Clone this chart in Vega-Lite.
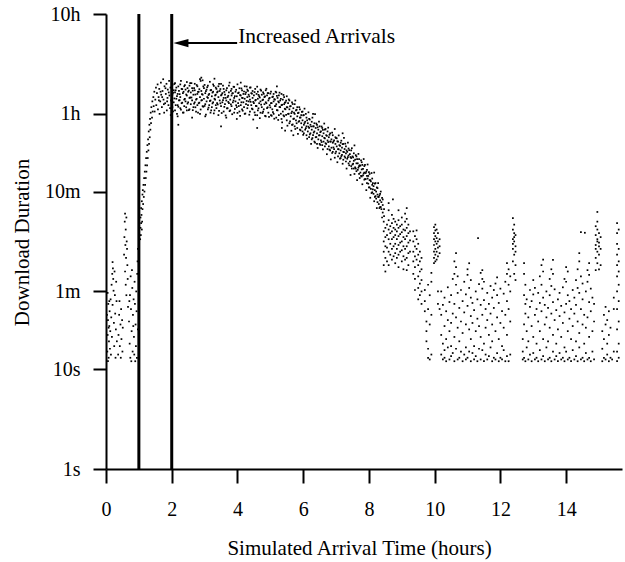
{
"$schema": "https://vega.github.io/schema/vega-lite/v6.json",
"width": 516, "height": 455,
"autosize": {"type": "none"},
"padding": {"left": 106, "top": 14, "right": 3, "bottom": 93},
"background": "white",
"config": {"view": {"stroke": null}, "font": "Times New Roman, Liberation Serif, serif"},
"datasets": {
"pts": [
{"t":0.04,"d":15},{"t":0.05,"d":22},{"t":0.06,"d":31},{"t":0.07,"d":45},{"t":0.05,"d":58},{"t":0.08,"d":13},{"t":0.09,"d":19},{"t":0.1,"d":27},{"t":0.11,"d":38},{"t":0.12,"d":16},{"t":0.13,"d":24},{"t":0.14,"d":50},{"t":0.15,"d":14},{"t":0.16,"d":33},{"t":0.17,"d":70},{"t":0.18,"d":21},{"t":0.19,"d":90},{"t":0.2,"d":118},{"t":0.21,"d":102},{"t":0.22,"d":80},{"t":0.2,"d":44},{"t":0.23,"d":61},{"t":0.24,"d":29},{"t":0.25,"d":17},{"t":0.26,"d":95},{"t":0.27,"d":55},{"t":0.28,"d":36},{"t":0.29,"d":13},{"t":0.3,"d":25},{"t":0.31,"d":75},{"t":0.32,"d":48},{"t":0.33,"d":19},{"t":0.03,"d":35},{"t":0.06,"d":12},{"t":0.1,"d":48},{"t":0.08,"d":26},
{"t":0.37,"d":14},{"t":0.38,"d":22},{"t":0.4,"d":35},{"t":0.41,"d":48},{"t":0.42,"d":17},{"t":0.44,"d":28},{"t":0.45,"d":13},{"t":0.46,"d":40},{"t":0.47,"d":20},{"t":0.49,"d":31},{"t":0.5,"d":15},{"t":0.51,"d":26},
{"t":0.55,"d":140},{"t":0.56,"d":210},{"t":0.57,"d":300},{"t":0.58,"d":360},{"t":0.59,"d":175},{"t":0.6,"d":250},{"t":0.61,"d":130},{"t":0.62,"d":330},{"t":0.63,"d":190},{"t":0.64,"d":160},{"t":0.58,"d":95},{"t":0.6,"d":70},{"t":0.62,"d":55},{"t":0.65,"d":110},{"t":0.66,"d":80},{"t":0.67,"d":42},
{"t":0.7,"d":30},{"t":0.72,"d":18},{"t":0.73,"d":55},{"t":0.74,"d":13},{"t":0.75,"d":85},{"t":0.76,"d":40},{"t":0.78,"d":24},{"t":0.79,"d":98},{"t":0.8,"d":65},{"t":0.81,"d":15},{"t":0.82,"d":35},{"t":0.84,"d":50},{"t":0.85,"d":21},{"t":0.86,"d":14},{"t":0.87,"d":75},{"t":0.88,"d":45},{"t":0.9,"d":28},{"t":0.91,"d":17},{"t":0.92,"d":60},{"t":0.93,"d":38},{"t":0.94,"d":13},{"t":0.95,"d":90},{"t":0.96,"d":120},{"t":0.97,"d":25},{"t":0.97,"d":160},{"t":0.77,"d":12},{"t":0.83,"d":27},{"t":0.89,"d":12},{"t":0.71,"d":48},
{"t":1.04,"d":200},{"t":1.05,"d":260},{"t":1.05,"d":330},{"t":1.06,"d":220},{"t":1.07,"d":290},{"t":1.07,"d":410},{"t":1.08,"d":350},{"t":1.09,"d":250},{"t":1.09,"d":480},{"t":1.1,"d":300},{"t":1.11,"d":560},{"t":1.11,"d":400},{"t":1.12,"d":620},{"t":1.13,"d":450},{"t":1.14,"d":700},{"t":1.15,"d":530},{"t":1.16,"d":820},{"t":1.17,"d":600},{"t":1.18,"d":950},{"t":1.19,"d":700},{"t":1.2,"d":1100},{"t":1.21,"d":820},{"t":1.22,"d":1300},{"t":1.23,"d":950},{"t":1.24,"d":1500},{"t":1.25,"d":1100},{"t":1.26,"d":1750},{"t":1.27,"d":1300},{"t":1.28,"d":2000},{"t":1.29,"d":1550},{"t":1.3,"d":2400},{"t":1.31,"d":1800},{"t":1.32,"d":2800},{"t":1.33,"d":2100},{"t":1.34,"d":3200},{"t":1.35,"d":2500},{"t":1.36,"d":3700},{"t":1.37,"d":2900},{"t":1.38,"d":4200},{"t":1.4,"d":3300},{"t":1.41,"d":4800},{"t":1.42,"d":3800},{"t":1.44,"d":5300},{"t":1.45,"d":4300},{"t":1.47,"d":6000},{"t":1.48,"d":3800},{"t":1.5,"d":5000},{"t":1.52,"d":6600},{"t":1.53,"d":4400},{"t":1.55,"d":5800},{"t":1.57,"d":7100},{"t":1.58,"d":4000},{"t":1.6,"d":5300},{"t":1.62,"d":6400},{"t":1.63,"d":3600},{"t":1.65,"d":4800},{"t":1.67,"d":7400},{"t":1.68,"d":5600},{"t":1.7,"d":4200},{"t":1.72,"d":6100},{"t":1.74,"d":8000},{"t":1.75,"d":5000},{"t":1.77,"d":3700},{"t":1.78,"d":6800},{"t":1.8,"d":4600},{"t":1.82,"d":5700},{"t":1.84,"d":7200},{"t":1.85,"d":3900},{"t":1.87,"d":5200},{"t":1.88,"d":6300},{"t":1.9,"d":4400},{"t":1.92,"d":7700},{"t":1.93,"d":5500},{"t":1.95,"d":4100},{"t":1.96,"d":6600},{"t":1.98,"d":4900},
{"t":1.61,"d":4900},{"t":1.66,"d":6000},{"t":1.71,"d":5300},{"t":1.76,"d":4500},{"t":1.81,"d":6500},{"t":1.86,"d":4800},{"t":1.91,"d":5900},{"t":1.97,"d":3500},
{"t":2.02,"d":5600},{"t":2.02,"d":4200},{"t":2.02,"d":7000},{"t":2.06,"d":4700},{"t":2.06,"d":6200},{"t":2.1,"d":5900},{"t":2.1,"d":3900},{"t":2.1,"d":7300},{"t":2.14,"d":5100},{"t":2.14,"d":6600},{"t":2.18,"d":4400},{"t":2.18,"d":5700},{"t":2.18,"d":3400},{"t":2.22,"d":6100},{"t":2.22,"d":4900},{"t":2.26,"d":5300},{"t":2.26,"d":7100},{"t":2.26,"d":4100},{"t":2.3,"d":4600},{"t":2.3,"d":6400},{"t":2.34,"d":5800},{"t":2.34,"d":3700},{"t":2.38,"d":5000},{"t":2.38,"d":6800},{"t":2.38,"d":4300},{"t":2.42,"d":6300},{"t":2.42,"d":4800},{"t":2.46,"d":5500},{"t":2.46,"d":3900},{"t":2.46,"d":7500},{"t":2.5,"d":4700},{"t":2.5,"d":6000},{"t":2.54,"d":5200},{"t":2.54,"d":4000},{"t":2.54,"d":6900},{"t":2.58,"d":5900},{"t":2.58,"d":4500},{"t":2.62,"d":4900},{"t":2.62,"d":6500},{"t":2.62,"d":3300},{"t":2.66,"d":5600},{"t":2.66,"d":4200},{"t":2.7,"d":6200},{"t":2.7,"d":4700},{"t":2.7,"d":7200},{"t":2.74,"d":5000},{"t":2.74,"d":3800},{"t":2.78,"d":5700},{"t":2.78,"d":6800},{"t":2.78,"d":4400},{"t":2.82,"d":4600},{"t":2.82,"d":6000},{"t":2.86,"d":5300},{"t":2.86,"d":8000},{"t":2.86,"d":3600},{"t":2.9,"d":6100},{"t":2.9,"d":4900},{"t":2.94,"d":4300},{"t":2.94,"d":5600},{"t":2.94,"d":7800},{"t":2.98,"d":5100},{"t":2.98,"d":6500},
{"t":3.02,"d":4500},{"t":3.02,"d":5800},{"t":3.02,"d":3400},{"t":3.06,"d":6300},{"t":3.06,"d":4800},{"t":3.1,"d":5200},{"t":3.1,"d":4000},{"t":3.1,"d":6900},{"t":3.14,"d":5700},{"t":3.14,"d":4400},{"t":3.18,"d":4900},{"t":3.18,"d":6200},{"t":3.18,"d":3700},{"t":3.22,"d":5400},{"t":3.22,"d":4200},{"t":3.26,"d":6000},{"t":3.26,"d":4700},{"t":3.26,"d":7100},{"t":3.3,"d":5100},{"t":3.3,"d":3900},{"t":3.3,"d":8100},{"t":3.34,"d":5600},{"t":3.34,"d":6600},{"t":3.34,"d":4400},{"t":3.38,"d":4600},{"t":3.38,"d":5900},{"t":3.42,"d":5300},{"t":3.42,"d":3500},{"t":3.42,"d":6800},{"t":3.46,"d":4900},{"t":3.46,"d":6100},{"t":3.5,"d":5500},{"t":3.5,"d":4300},{"t":3.5,"d":7200},{"t":3.54,"d":4700},{"t":3.54,"d":5800},{"t":3.58,"d":5200},{"t":3.58,"d":3800},{"t":3.58,"d":6400},{"t":3.62,"d":5600},{"t":3.62,"d":4500},{"t":3.66,"d":4900},{"t":3.66,"d":6200},{"t":3.66,"d":3300},{"t":3.7,"d":5300},{"t":3.7,"d":4100},{"t":3.74,"d":5900},{"t":3.74,"d":4600},{"t":3.74,"d":6900},{"t":3.78,"d":5000},{"t":3.78,"d":3900},{"t":3.82,"d":5500},{"t":3.82,"d":6400},{"t":3.82,"d":4300},{"t":3.86,"d":4700},{"t":3.86,"d":5800},{"t":3.9,"d":5200},{"t":3.9,"d":3700},{"t":3.9,"d":6700},{"t":3.94,"d":4800},{"t":3.94,"d":6000},{"t":3.98,"d":5400},{"t":3.98,"d":4200},{"t":3.98,"d":3200},
{"t":4.02,"d":5800},{"t":4.02,"d":4600},{"t":4.06,"d":5000},{"t":4.06,"d":6500},{"t":4.06,"d":3800},{"t":4.1,"d":4400},{"t":4.1,"d":5500},{"t":4.14,"d":5200},{"t":4.14,"d":6200},{"t":4.14,"d":4000},{"t":4.18,"d":4700},{"t":4.18,"d":5700},{"t":4.22,"d":5100},{"t":4.22,"d":3600},{"t":4.22,"d":6800},{"t":4.26,"d":4500},{"t":4.26,"d":5900},{"t":4.3,"d":5300},{"t":4.3,"d":4100},{"t":4.3,"d":6300},{"t":4.34,"d":4800},{"t":4.34,"d":5600},{"t":4.38,"d":5000},{"t":4.38,"d":3800},{"t":4.38,"d":6600},{"t":4.42,"d":4400},{"t":4.42,"d":5800},{"t":4.46,"d":5200},{"t":4.46,"d":4000},{"t":4.46,"d":6100},{"t":4.5,"d":4600},{"t":4.5,"d":5500},{"t":4.54,"d":4900},{"t":4.54,"d":3500},{"t":4.54,"d":6400},{"t":4.58,"d":4300},{"t":4.58,"d":5700},{"t":4.62,"d":5100},{"t":4.62,"d":3900},{"t":4.62,"d":6000},{"t":4.66,"d":4600},{"t":4.66,"d":5400},{"t":4.7,"d":4800},{"t":4.7,"d":3700},{"t":4.7,"d":6300},{"t":4.74,"d":4200},{"t":4.74,"d":5600},{"t":4.78,"d":5000},{"t":4.78,"d":3800},{"t":4.78,"d":5900},{"t":4.82,"d":4500},{"t":4.82,"d":5300},{"t":4.86,"d":4700},{"t":4.86,"d":3400},{"t":4.86,"d":6200},{"t":4.9,"d":4100},{"t":4.9,"d":5500},{"t":4.94,"d":4900},{"t":4.94,"d":3700},{"t":4.94,"d":5800},{"t":4.98,"d":4400},{"t":4.98,"d":5200},
{"t":5.02,"d":4600},{"t":5.02,"d":3500},{"t":5.02,"d":6000},{"t":5.06,"d":4000},{"t":5.06,"d":5300},{"t":5.1,"d":4800},{"t":5.1,"d":3600},{"t":5.1,"d":5700},{"t":5.14,"d":4300},{"t":5.14,"d":5000},{"t":5.18,"d":4500},{"t":5.18,"d":3300},{"t":5.18,"d":5900},{"t":5.22,"d":3900},{"t":5.22,"d":5200},{"t":5.26,"d":4700},{"t":5.26,"d":3500},{"t":5.26,"d":5500},{"t":5.3,"d":4200},{"t":5.3,"d":4900},{"t":5.34,"d":4400},{"t":5.34,"d":3200},{"t":5.34,"d":5700},{"t":5.38,"d":3800},{"t":5.38,"d":5000},{"t":5.42,"d":4500},{"t":5.42,"d":3400},{"t":5.42,"d":5300},{"t":5.46,"d":4000},{"t":5.46,"d":4700},{"t":5.5,"d":4200},{"t":5.5,"d":3100},{"t":5.5,"d":5400},{"t":5.54,"d":3600},{"t":5.54,"d":4600},{"t":5.58,"d":4000},{"t":5.58,"d":2900},{"t":5.58,"d":4900},{"t":5.62,"d":3400},{"t":5.62,"d":4300},{"t":5.66,"d":3800},{"t":5.66,"d":2800},{"t":5.66,"d":4700},{"t":5.7,"d":3200},{"t":5.7,"d":4100},{"t":5.74,"d":3600},{"t":5.74,"d":2700},{"t":5.74,"d":4500},{"t":5.78,"d":3100},{"t":5.78,"d":3900},{"t":5.82,"d":3400},{"t":5.82,"d":2600},{"t":5.82,"d":4200},{"t":5.86,"d":3000},{"t":5.86,"d":3700},{"t":5.9,"d":3300},{"t":5.9,"d":2500},{"t":5.9,"d":4000},{"t":5.94,"d":2900},{"t":5.94,"d":3500},{"t":5.98,"d":3100},{"t":5.98,"d":2400},{"t":5.98,"d":3800},
{"t":6.02,"d":2800},{"t":6.02,"d":3500},{"t":6.02,"d":2300},{"t":6.06,"d":3000},{"t":6.06,"d":2500},{"t":6.1,"d":2700},{"t":6.1,"d":3300},{"t":6.1,"d":2200},{"t":6.14,"d":2900},{"t":6.14,"d":2400},{"t":6.18,"d":2600},{"t":6.18,"d":3200},{"t":6.18,"d":2100},{"t":6.22,"d":2800},{"t":6.22,"d":2300},{"t":6.26,"d":2500},{"t":6.26,"d":3000},{"t":6.26,"d":2000},{"t":6.3,"d":2700},{"t":6.3,"d":2200},{"t":6.34,"d":2400},{"t":6.34,"d":2900},{"t":6.34,"d":1900},{"t":6.38,"d":2600},{"t":6.38,"d":2100},{"t":6.42,"d":2300},{"t":6.42,"d":2800},{"t":6.42,"d":1800},{"t":6.46,"d":2500},{"t":6.46,"d":2000},{"t":6.5,"d":2200},{"t":6.5,"d":2700},{"t":6.5,"d":1800},{"t":6.54,"d":2400},{"t":6.54,"d":1950},{"t":6.58,"d":2150},{"t":6.58,"d":2600},{"t":6.58,"d":1750},{"t":6.62,"d":2300},{"t":6.62,"d":1900},{"t":6.66,"d":2050},{"t":6.66,"d":2500},{"t":6.66,"d":1700},{"t":6.7,"d":2200},{"t":6.7,"d":1800},{"t":6.74,"d":1950},{"t":6.74,"d":2400},{"t":6.74,"d":1600},{"t":6.78,"d":2100},{"t":6.78,"d":1700},{"t":6.82,"d":1900},{"t":6.82,"d":2300},{"t":6.82,"d":1550},{"t":6.86,"d":2000},{"t":6.86,"d":1650},{"t":6.9,"d":1850},{"t":6.9,"d":2200},{"t":6.9,"d":1500},{"t":6.94,"d":1950},{"t":6.94,"d":1600},{"t":6.98,"d":1800},{"t":6.98,"d":2100},{"t":6.98,"d":1450},
{"t":7.02,"d":1700},{"t":7.02,"d":2050},{"t":7.06,"d":1600},{"t":7.06,"d":1900},{"t":7.06,"d":1350},{"t":7.1,"d":1750},{"t":7.1,"d":1450},{"t":7.14,"d":1550},{"t":7.14,"d":1850},{"t":7.14,"d":1300},{"t":7.18,"d":1650},{"t":7.18,"d":1400},{"t":7.22,"d":1500},{"t":7.22,"d":1800},{"t":7.22,"d":1250},{"t":7.26,"d":1600},{"t":7.26,"d":1350},{"t":7.3,"d":1450},{"t":7.3,"d":1700},{"t":7.3,"d":1200},{"t":7.34,"d":1500},{"t":7.34,"d":1280},{"t":7.38,"d":1380},{"t":7.38,"d":1620},{"t":7.38,"d":1150},{"t":7.42,"d":1420},{"t":7.42,"d":1200},{"t":7.46,"d":1300},{"t":7.46,"d":1550},{"t":7.46,"d":1080},{"t":7.5,"d":1350},{"t":7.5,"d":1120},{"t":7.54,"d":1220},{"t":7.54,"d":1450},{"t":7.54,"d":1020},{"t":7.58,"d":1250},{"t":7.58,"d":1050},{"t":7.62,"d":1150},{"t":7.62,"d":1350},{"t":7.62,"d":960},{"t":7.66,"d":1150},{"t":7.66,"d":990},{"t":7.7,"d":1080},{"t":7.7,"d":1270},{"t":7.7,"d":900},{"t":7.74,"d":1090},{"t":7.74,"d":930},{"t":7.78,"d":1000},{"t":7.78,"d":1180},{"t":7.78,"d":850},{"t":7.82,"d":1010},{"t":7.82,"d":870},{"t":7.86,"d":930},{"t":7.86,"d":1080},{"t":7.86,"d":790},{"t":7.9,"d":920},{"t":7.9,"d":800},{"t":7.94,"d":860},{"t":7.94,"d":990},{"t":7.94,"d":730},{"t":7.98,"d":860},{"t":7.98,"d":720},
{"t":8.02,"d":780},{"t":8.02,"d":900},{"t":8.02,"d":660},{"t":8.06,"d":760},{"t":8.06,"d":640},{"t":8.1,"d":700},{"t":8.1,"d":810},{"t":8.1,"d":590},{"t":8.14,"d":680},{"t":8.14,"d":570},{"t":8.18,"d":620},{"t":8.18,"d":720},{"t":8.18,"d":530},{"t":8.22,"d":600},{"t":8.22,"d":510},{"t":8.26,"d":560},{"t":8.26,"d":650},{"t":8.26,"d":470},{"t":8.3,"d":530},{"t":8.3,"d":450},{"t":8.34,"d":490},{"t":8.34,"d":570},{"t":8.34,"d":420},{"t":8.38,"d":470},{"t":8.38,"d":400},{"t":8.42,"d":440},{"t":8.42,"d":370},{"t":8.42,"d":500},{"t":8.46,"d":400},{"t":8.46,"d":340},
{"t":2.0,"d":4770},{"t":2.0,"d":6630},{"t":2.04,"d":3820},{"t":2.04,"d":5830},{"t":2.08,"d":5140},{"t":2.08,"d":7160},{"t":2.12,"d":4400},{"t":2.12,"d":6200},{"t":2.16,"d":3600},{"t":2.16,"d":5410},{"t":2.2,"d":6780},{"t":2.2,"d":4240},{"t":2.24,"d":5670},{"t":2.24,"d":4930},{"t":2.28,"d":7690},{"t":2.28,"d":3980},{"t":2.32,"d":6360},{"t":2.32,"d":4660},{"t":2.36,"d":5990},{"t":2.36,"d":3710},{"t":2.4,"d":7000},{"t":2.4,"d":5090},{"t":2.44,"d":5620},{"t":2.44,"d":4190},{"t":2.48,"d":6520},{"t":2.48,"d":4560},{"t":2.52,"d":6150},{"t":2.52,"d":3920},{"t":2.56,"d":7310},{"t":2.56,"d":5250},
{"t":2.6,"d":5250},{"t":2.6,"d":7310},{"t":2.64,"d":3920},{"t":2.64,"d":6150},{"t":2.68,"d":4560},{"t":2.68,"d":6520},{"t":2.72,"d":4190},{"t":2.72,"d":5620},{"t":2.76,"d":5090},{"t":2.76,"d":7000},{"t":2.8,"d":3710},{"t":2.8,"d":5990},{"t":2.84,"d":4660},{"t":2.84,"d":6360},{"t":2.88,"d":3980},{"t":2.88,"d":7690},{"t":2.92,"d":4930},{"t":2.92,"d":5670},{"t":2.96,"d":4240},{"t":2.96,"d":6780},
{"t":3.0,"d":7020},{"t":3.0,"d":4320},{"t":3.04,"d":6080},{"t":3.04,"d":3540},{"t":3.08,"d":5300},{"t":3.08,"d":6660},{"t":3.12,"d":4160},{"t":3.12,"d":5560},{"t":3.16,"d":4840},{"t":3.16,"d":7540},{"t":3.2,"d":3900},{"t":3.2,"d":6240},{"t":3.24,"d":4580},{"t":3.24,"d":5880},{"t":3.28,"d":3640},{"t":3.28,"d":6860},{"t":3.32,"d":4990},{"t":3.32,"d":5510},{"t":3.36,"d":4110},{"t":3.36,"d":6400},{"t":3.4,"d":4470},{"t":3.4,"d":6030},{"t":3.44,"d":3850},{"t":3.44,"d":7180},
{"t":3.48,"d":6380},{"t":3.48,"d":4590},{"t":3.52,"d":5610},{"t":3.52,"d":3670},{"t":3.56,"d":6890},{"t":3.56,"d":4950},{"t":3.6,"d":5970},{"t":3.6,"d":4230},{"t":3.64,"d":5200},{"t":3.64,"d":3470},{"t":3.68,"d":4080},{"t":3.68,"d":6530},{"t":3.72,"d":4740},{"t":3.72,"d":5460},{"t":3.76,"d":3830},{"t":3.76,"d":7400},{"t":3.8,"d":4490},{"t":3.8,"d":6120},{"t":3.84,"d":3570},{"t":3.84,"d":5760},{"t":3.88,"d":4900},{"t":3.88,"d":6730},{"t":3.92,"d":4030},{"t":3.92,"d":5410},{"t":3.96,"d":4390},{"t":3.96,"d":6270},
{"t":4.0,"d":7110},{"t":4.0,"d":3680},{"t":4.04,"d":5880},{"t":4.04,"d":4310},{"t":4.08,"d":5540},{"t":4.08,"d":3430},{"t":4.12,"d":6470},{"t":4.12,"d":4700},{"t":4.16,"d":5190},{"t":4.16,"d":3870},{"t":4.2,"d":6030},{"t":4.2,"d":4210},{"t":4.24,"d":5680},{"t":4.24,"d":3630},{"t":4.28,"d":6760},{"t":4.28,"d":4850},{"t":4.32,"d":4410},{"t":4.32,"d":6130},{"t":4.36,"d":3530},{"t":4.36,"d":5390},{"t":4.4,"d":4750},{"t":4.4,"d":6620},{"t":4.44,"d":4070},{"t":4.44,"d":5730},
{"t":4.48,"d":3160},{"t":4.48,"d":4740},{"t":4.52,"d":5950},{"t":4.52,"d":3720},{"t":4.56,"d":4980},{"t":4.56,"d":4320},{"t":4.6,"d":6740},{"t":4.6,"d":3490},{"t":4.64,"d":5580},{"t":4.64,"d":4090},{"t":4.68,"d":5250},{"t":4.68,"d":3260},{"t":4.72,"d":6140},{"t":4.72,"d":4460},{"t":4.76,"d":4930},{"t":4.76,"d":3670},{"t":4.8,"d":5720},{"t":4.8,"d":4000},{"t":4.84,"d":5390},{"t":4.84,"d":3440},{"t":4.88,"d":6420},{"t":4.88,"d":4600},{"t":4.92,"d":4190},{"t":4.92,"d":5810},{"t":4.96,"d":3350},{"t":4.96,"d":5120},
{"t":5.0,"d":5740},{"t":5.0,"d":4180},{"t":5.04,"d":4610},{"t":5.04,"d":3440},{"t":5.08,"d":5350},{"t":5.08,"d":3740},{"t":5.12,"d":5050},{"t":5.12,"d":3220},{"t":5.16,"d":6000},{"t":5.16,"d":4310},{"t":5.2,"d":3920},{"t":5.2,"d":5440},{"t":5.24,"d":3130},{"t":5.24,"d":4790},{"t":5.28,"d":4220},{"t":5.28,"d":5870},{"t":5.32,"d":3610},{"t":5.32,"d":5090},{"t":5.36,"d":2960},{"t":5.36,"d":4440},{"t":5.4,"d":5570},{"t":5.4,"d":3480},{"t":5.44,"d":4650},{"t":5.44,"d":4050},
{"t":5.48,"d":3510},{"t":5.48,"d":4880},{"t":5.52,"d":2740},{"t":5.52,"d":4180},{"t":5.56,"d":3610},{"t":5.56,"d":5020},{"t":5.6,"d":3030},{"t":5.6,"d":4270},{"t":5.64,"d":2440},{"t":5.64,"d":3660},{"t":5.68,"d":4520},{"t":5.68,"d":2820},{"t":5.72,"d":3700},{"t":5.72,"d":3220},{"t":5.76,"d":4900},{"t":5.76,"d":2540},{"t":5.8,"d":3960},{"t":5.8,"d":2900},{"t":5.84,"d":3660},{"t":5.84,"d":2270},{"t":5.88,"d":4200},{"t":5.88,"d":3050},{"t":5.92,"d":3310},{"t":5.92,"d":2460},{"t":5.96,"d":3760},{"t":5.96,"d":2630},
{"t":6.0,"d":3480},{"t":6.0,"d":2220},{"t":6.04,"d":4060},{"t":6.04,"d":2910},{"t":6.08,"d":2590},{"t":6.08,"d":3600},{"t":6.12,"d":2030},{"t":6.12,"d":3100},{"t":6.16,"d":2680},{"t":6.16,"d":3730},{"t":6.2,"d":2240},{"t":6.2,"d":3160},{"t":6.24,"d":1800},{"t":6.24,"d":2690},{"t":6.28,"d":3300},{"t":6.28,"d":2060},{"t":6.32,"d":2700},{"t":6.32,"d":2340},{"t":6.36,"d":3570},{"t":6.36,"d":1850},{"t":6.4,"d":2880},{"t":6.4,"d":2110},{"t":6.44,"d":2640},{"t":6.44,"d":1640},{"t":6.48,"d":3010},{"t":6.48,"d":2190},{"t":6.52,"d":2360},{"t":6.52,"d":1760},{"t":6.56,"d":2690},{"t":6.56,"d":1880},{"t":6.6,"d":2490},{"t":6.6,"d":1590},{"t":6.64,"d":2880},{"t":6.64,"d":2070},{"t":6.68,"d":1830},{"t":6.68,"d":2540},{"t":6.72,"d":1420},{"t":6.72,"d":2170},{"t":6.76,"d":1880},{"t":6.76,"d":2620},{"t":6.8,"d":1580},{"t":6.8,"d":2220},{"t":6.84,"d":1260},{"t":6.84,"d":1900},{"t":6.88,"d":2330},{"t":6.88,"d":1460},{"t":6.92,"d":1900},{"t":6.92,"d":1660},{"t":6.96,"d":2540},{"t":6.96,"d":1310},
{"t":7.0,"d":2060},{"t":7.0,"d":1510},{"t":7.04,"d":1910},{"t":7.04,"d":1180},{"t":7.08,"d":2190},{"t":7.08,"d":1590},{"t":7.12,"d":1720},{"t":7.12,"d":1280},{"t":7.16,"d":1940},{"t":7.16,"d":1360},{"t":7.2,"d":1790},{"t":7.2,"d":1140},{"t":7.24,"d":2070},{"t":7.24,"d":1490},{"t":7.28,"d":1310},{"t":7.28,"d":1810},{"t":7.32,"d":1020},{"t":7.32,"d":1550},{"t":7.36,"d":1330},{"t":7.36,"d":1850},{"t":7.4,"d":1100},{"t":7.4,"d":1560},{"t":7.44,"d":880},{"t":7.44,"d":1330},{"t":7.48,"d":1630},{"t":7.48,"d":1020},{"t":7.52,"d":1320},{"t":7.52,"d":1140},{"t":7.56,"d":1740},{"t":7.56,"d":900},{"t":7.6,"d":1390},{"t":7.6,"d":1020},{"t":7.64,"d":1270},{"t":7.64,"d":780},{"t":7.68,"d":1430},{"t":7.68,"d":1040},{"t":7.72,"d":1100},{"t":7.72,"d":820},{"t":7.76,"d":1230},{"t":7.76,"d":860},{"t":7.8,"d":1110},{"t":7.8,"d":710},{"t":7.84,"d":1270},{"t":7.84,"d":910},{"t":7.88,"d":800},{"t":7.88,"d":1110},{"t":7.92,"d":620},{"t":7.92,"d":950},{"t":7.96,"d":810},{"t":7.96,"d":1120},
{"t":8.0,"d":660},{"t":8.0,"d":940},{"t":8.04,"d":520},{"t":8.04,"d":780},{"t":8.08,"d":920},{"t":8.08,"d":580},{"t":8.12,"d":730},{"t":8.12,"d":630},{"t":8.16,"d":930},{"t":8.16,"d":480},{"t":8.2,"d":730},{"t":8.2,"d":540},{"t":8.24,"d":660},{"t":8.24,"d":410},{"t":8.28,"d":730},{"t":8.28,"d":530},{"t":8.32,"d":550},{"t":8.32,"d":410},{"t":8.36,"d":600},{"t":8.36,"d":420},{"t":8.4,"d":520},{"t":8.4,"d":330},
{"t":2.2,"d":2800},{"t":3.5,"d":2700},{"t":4.6,"d":2600},{"t":5.7,"d":2200},{"t":5.35,"d":2600},{"t":5.45,"d":2450},{"t":2.9,"d":8300},{"t":4.1,"d":7400},{"t":5.2,"d":6800},{"t":6.3,"d":3600},{"t":7.2,"d":2300},{"t":8.6,"d":460},{"t":8.73,"d":500},
{"t":8.45,"d":300},{"t":8.45,"d":240},{"t":8.45,"d":190},{"t":8.45,"d":150},{"t":8.45,"d":110},{"t":8.5,"d":260},{"t":8.5,"d":210},{"t":8.5,"d":170},{"t":8.5,"d":130},{"t":8.5,"d":95},{"t":8.55,"d":280},{"t":8.55,"d":220},{"t":8.55,"d":165},{"t":8.55,"d":120},{"t":8.6,"d":390},{"t":8.6,"d":310},{"t":8.6,"d":250},{"t":8.6,"d":200},{"t":8.6,"d":150},{"t":8.6,"d":110},{"t":8.65,"d":270},{"t":8.65,"d":230},{"t":8.65,"d":180},{"t":8.65,"d":140},{"t":8.7,"d":350},{"t":8.7,"d":290},{"t":8.7,"d":240},{"t":8.7,"d":200},{"t":8.7,"d":160},{"t":8.7,"d":125},{"t":8.75,"d":320},{"t":8.75,"d":260},{"t":8.75,"d":210},{"t":8.75,"d":170},{"t":8.75,"d":135},{"t":8.8,"d":300},{"t":8.8,"d":250},{"t":8.8,"d":220},{"t":8.8,"d":180},{"t":8.8,"d":145},{"t":8.8,"d":115},{"t":8.85,"d":280},{"t":8.85,"d":240},{"t":8.85,"d":200},{"t":8.85,"d":160},{"t":8.85,"d":130},{"t":8.9,"d":390},{"t":8.9,"d":310},{"t":8.9,"d":260},{"t":8.9,"d":215},{"t":8.9,"d":175},{"t":8.9,"d":140},{"t":8.9,"d":105},{"t":8.95,"d":270},{"t":8.95,"d":225},{"t":8.95,"d":185},{"t":8.95,"d":150},{"t":9.0,"d":330},{"t":9.0,"d":280},{"t":9.0,"d":235},{"t":9.0,"d":190},{"t":9.0,"d":155},{"t":9.0,"d":120},{"t":9.05,"d":250},{"t":9.05,"d":210},{"t":9.05,"d":170},{"t":9.05,"d":135},{"t":9.05,"d":100},{"t":9.1,"d":360},{"t":9.1,"d":300},{"t":9.1,"d":245},{"t":9.1,"d":200},{"t":9.1,"d":160},{"t":9.1,"d":125},{"t":9.15,"d":410},{"t":9.15,"d":320},{"t":9.15,"d":260},{"t":9.15,"d":215},{"t":9.15,"d":170},{"t":9.15,"d":130},{"t":9.15,"d":98},{"t":9.2,"d":280},{"t":9.2,"d":230},{"t":9.2,"d":185},{"t":9.2,"d":145},{"t":9.2,"d":110},{"t":9.25,"d":240},{"t":9.25,"d":195},{"t":9.25,"d":150},
{"t":9.35,"d":240},{"t":9.35,"d":190},{"t":9.35,"d":150},{"t":9.35,"d":120},{"t":9.35,"d":90},{"t":9.4,"d":215},{"t":9.4,"d":170},{"t":9.4,"d":135},{"t":9.4,"d":105},{"t":9.4,"d":80},{"t":9.4,"d":62},{"t":9.45,"d":245},{"t":9.45,"d":200},{"t":9.45,"d":160},{"t":9.45,"d":125},{"t":9.5,"d":180},{"t":9.5,"d":140},{"t":9.5,"d":110},{"t":9.5,"d":85},{"t":9.5,"d":65},{"t":9.5,"d":50},{"t":9.55,"d":150},{"t":9.55,"d":120},{"t":9.55,"d":95},{"t":9.55,"d":72},{"t":9.55,"d":55},{"t":9.6,"d":130},{"t":9.6,"d":100},{"t":9.6,"d":78},{"t":9.6,"d":60},{"t":9.6,"d":45},
{"t":9.7,"d":62},{"t":9.7,"d":48},{"t":9.7,"d":38},{"t":9.75,"d":30},{"t":9.75,"d":24},{"t":9.75,"d":19},{"t":9.8,"d":70},{"t":9.8,"d":40},{"t":9.8,"d":16},{"t":9.8,"d":13},{"t":9.85,"d":55},{"t":9.85,"d":28},{"t":9.85,"d":12.5},{"t":9.9,"d":92},{"t":9.9,"d":75},{"t":9.9,"d":35},{"t":9.9,"d":14},
{"t":9.98,"d":265},{"t":9.98,"d":230},{"t":9.98,"d":200},{"t":9.98,"d":175},{"t":9.98,"d":150},{"t":9.98,"d":130},{"t":9.98,"d":115},{"t":10.02,"d":280},{"t":10.02,"d":245},{"t":10.02,"d":215},{"t":10.02,"d":190},{"t":10.02,"d":160},{"t":10.02,"d":140},{"t":10.02,"d":120},{"t":10.06,"d":250},{"t":10.06,"d":205},{"t":10.06,"d":180},{"t":10.06,"d":150},{"t":10.06,"d":125},{"t":10.1,"d":230},{"t":10.1,"d":190},{"t":10.1,"d":165},{"t":10.1,"d":135},{"t":10.1,"d":60},{"t":10.1,"d":45},{"t":10.15,"d":200},{"t":10.15,"d":170},{"t":10.15,"d":145},{"t":10.15,"d":40},
{"t":10.2,"d":14},{"t":10.2,"d":22},{"t":10.2,"d":35},{"t":10.2,"d":60},{"t":10.25,"d":12.5},{"t":10.25,"d":18},{"t":10.25,"d":44},{"t":10.3,"d":15.5},{"t":10.3,"d":27},{"t":10.3,"d":52},{"t":10.3,"d":13},{"t":10.35,"d":12},{"t":10.35,"d":20},{"t":10.35,"d":38},{"t":10.4,"d":16.5},{"t":10.4,"d":31},{"t":10.4,"d":66},{"t":10.45,"d":12.5},{"t":10.45,"d":24},{"t":10.45,"d":47},{"t":10.5,"d":13.5},{"t":10.5,"d":17},{"t":10.5,"d":29},{"t":10.5,"d":55},{"t":10.55,"d":14.5},{"t":10.55,"d":36},{"t":10.55,"d":80},{"t":10.6,"d":12},{"t":10.6,"d":21},{"t":10.6,"d":45},{"t":10.6,"d":90},{"t":10.6,"d":120},{"t":10.65,"d":16},{"t":10.65,"d":33},{"t":10.65,"d":70},{"t":10.65,"d":145},{"t":10.65,"d":105},{"t":10.7,"d":12.5},{"t":10.7,"d":26},{"t":10.7,"d":58},{"t":10.7,"d":85},{"t":10.75,"d":13},{"t":10.75,"d":19},{"t":10.75,"d":41},{"t":10.8,"d":15},{"t":10.8,"d":30},{"t":10.8,"d":62},{"t":10.85,"d":12},{"t":10.85,"d":23},{"t":10.85,"d":48},{"t":10.9,"d":14},{"t":10.9,"d":37},{"t":10.9,"d":75},{"t":10.95,"d":12.5},{"t":10.95,"d":16.5},{"t":10.95,"d":28},{"t":10.95,"d":56},
{"t":11.0,"d":13},{"t":11.0,"d":43},{"t":11.0,"d":88},{"t":11.0,"d":100},{"t":11.05,"d":15},{"t":11.05,"d":25},{"t":11.05,"d":65},{"t":11.05,"d":115},{"t":11.1,"d":12},{"t":11.1,"d":20},{"t":11.1,"d":34},{"t":11.1,"d":52},{"t":11.1,"d":78},{"t":11.15,"d":14.5},{"t":11.15,"d":29},{"t":11.15,"d":46},{"t":11.2,"d":12.5},{"t":11.2,"d":17},{"t":11.2,"d":39},{"t":11.25,"d":13.5},{"t":11.25,"d":24},{"t":11.25,"d":60},{"t":11.3,"d":12},{"t":11.3,"d":32},{"t":11.3,"d":50},{"t":11.32,"d":205},{"t":11.35,"d":16},{"t":11.35,"d":27},{"t":11.35,"d":71},{"t":11.4,"d":12.5},{"t":11.4,"d":21},{"t":11.4,"d":44},{"t":11.4,"d":92},{"t":11.45,"d":15.5},{"t":11.45,"d":35},{"t":11.45,"d":64},{"t":11.45,"d":98},{"t":11.45,"d":80},{"t":11.5,"d":12},{"t":11.5,"d":18},{"t":11.5,"d":49},{"t":11.5,"d":75},{"t":11.55,"d":14},{"t":11.55,"d":26},{"t":11.55,"d":40},{"t":11.6,"d":12.5},{"t":11.6,"d":31},{"t":11.6,"d":58},{"t":11.65,"d":13.5},{"t":11.65,"d":22},{"t":11.65,"d":45},{"t":11.7,"d":16.5},{"t":11.7,"d":36},{"t":11.7,"d":68},{"t":11.75,"d":12},{"t":11.75,"d":19},{"t":11.75,"d":28},{"t":11.75,"d":52},{"t":11.8,"d":13},{"t":11.8,"d":41},{"t":11.8,"d":62},{"t":11.85,"d":12.5},{"t":11.85,"d":24},{"t":11.85,"d":72},{"t":11.9,"d":14.5},{"t":11.9,"d":33},{"t":11.9,"d":55},{"t":11.9,"d":83},{"t":11.95,"d":12},{"t":11.95,"d":20},{"t":11.95,"d":46},
{"t":12.0,"d":13},{"t":12.0,"d":29},{"t":12.0,"d":64},{"t":12.05,"d":12.5},{"t":12.05,"d":17},{"t":12.05,"d":38},{"t":12.1,"d":15.5},{"t":12.1,"d":26},{"t":12.1,"d":57},{"t":12.15,"d":12},{"t":12.15,"d":35},{"t":12.15,"d":75},{"t":12.2,"d":13.5},{"t":12.2,"d":22},{"t":12.2,"d":48},{"t":12.2,"d":90},{"t":12.2,"d":115},{"t":12.25,"d":12},{"t":12.25,"d":40},{"t":12.25,"d":70},{"t":12.25,"d":100},{"t":12.3,"d":14},{"t":12.3,"d":30},{"t":12.3,"d":60},{"t":12.3,"d":85},{"t":12.38,"d":120},{"t":12.38,"d":160},{"t":12.38,"d":200},{"t":12.38,"d":250},{"t":12.38,"d":325},{"t":12.38,"d":180},{"t":12.42,"d":90},{"t":12.42,"d":140},{"t":12.42,"d":190},{"t":12.42,"d":230},{"t":12.42,"d":280},{"t":12.42,"d":210},{"t":12.46,"d":78},{"t":12.46,"d":110},{"t":12.46,"d":170},{"t":12.46,"d":220},{"t":12.46,"d":150},
{"t":12.68,"d":12.5},{"t":12.68,"d":15},{"t":12.68,"d":20},{"t":12.72,"d":13},{"t":12.72,"d":28},{"t":12.72,"d":55},{"t":12.72,"d":90},{"t":12.72,"d":115},{"t":12.76,"d":12},{"t":12.76,"d":36},{"t":12.76,"d":70},{"t":12.76,"d":45},{"t":12.8,"d":16.5},{"t":12.8,"d":24},{"t":12.8,"d":50},{"t":12.85,"d":12.5},{"t":12.85,"d":19},{"t":12.85,"d":33},{"t":12.9,"d":14},{"t":12.9,"d":42},{"t":12.9,"d":62},{"t":12.95,"d":12},{"t":12.95,"d":27},{"t":12.95,"d":48},
{"t":13.0,"d":14.5},{"t":13.0,"d":21},{"t":13.0,"d":56},{"t":13.0,"d":78},{"t":13.05,"d":12.5},{"t":13.05,"d":35},{"t":13.05,"d":65},{"t":13.1,"d":13},{"t":13.1,"d":18},{"t":13.1,"d":40},{"t":13.15,"d":12},{"t":13.15,"d":30},{"t":13.15,"d":58},{"t":13.2,"d":15.5},{"t":13.2,"d":24},{"t":13.2,"d":46},{"t":13.2,"d":85},{"t":13.25,"d":12.5},{"t":13.25,"d":38},{"t":13.25,"d":70},{"t":13.25,"d":110},{"t":13.3,"d":13.5},{"t":13.3,"d":20},{"t":13.3,"d":52},{"t":13.3,"d":125},{"t":13.3,"d":95},{"t":13.35,"d":12},{"t":13.35,"d":28},{"t":13.35,"d":44},{"t":13.4,"d":16.5},{"t":13.4,"d":33},{"t":13.4,"d":60},{"t":13.45,"d":12.5},{"t":13.45,"d":19},{"t":13.45,"d":41},{"t":13.5,"d":13},{"t":13.5,"d":26},{"t":13.5,"d":55},{"t":13.5,"d":80},{"t":13.55,"d":12},{"t":13.55,"d":36},{"t":13.55,"d":68},{"t":13.55,"d":100},{"t":13.6,"d":15},{"t":13.6,"d":22},{"t":13.6,"d":47},{"t":13.6,"d":124},{"t":13.6,"d":90},{"t":13.65,"d":12.5},{"t":13.65,"d":31},{"t":13.65,"d":63},{"t":13.7,"d":13.5},{"t":13.7,"d":18},{"t":13.7,"d":39},{"t":13.75,"d":12},{"t":13.75,"d":25},{"t":13.75,"d":50},{"t":13.8,"d":14.5},{"t":13.8,"d":34},{"t":13.8,"d":58},{"t":13.85,"d":12.5},{"t":13.85,"d":21},{"t":13.85,"d":43},{"t":13.9,"d":13},{"t":13.9,"d":29},{"t":13.9,"d":66},{"t":13.95,"d":12},{"t":13.95,"d":16.5},{"t":13.95,"d":37},{"t":13.95,"d":80},
{"t":14.0,"d":15},{"t":14.0,"d":45},{"t":14.0,"d":75},{"t":14.0,"d":105},{"t":14.05,"d":12.5},{"t":14.05,"d":24},{"t":14.05,"d":55},{"t":14.05,"d":95},{"t":14.1,"d":13},{"t":14.1,"d":32},{"t":14.1,"d":48},{"t":14.15,"d":12},{"t":14.15,"d":20},{"t":14.15,"d":40},{"t":14.2,"d":15.5},{"t":14.2,"d":27},{"t":14.2,"d":62},{"t":14.25,"d":12.5},{"t":14.25,"d":36},{"t":14.25,"d":52},{"t":14.3,"d":13.5},{"t":14.3,"d":19},{"t":14.3,"d":44},{"t":14.3,"d":78},{"t":14.35,"d":12},{"t":14.35,"d":30},{"t":14.35,"d":65},{"t":14.35,"d":100},{"t":14.4,"d":16.5},{"t":14.4,"d":23},{"t":14.4,"d":58},{"t":14.4,"d":120},{"t":14.4,"d":145},{"t":14.45,"d":12.5},{"t":14.45,"d":40},{"t":14.45,"d":85},{"t":14.45,"d":235},{"t":14.5,"d":13},{"t":14.5,"d":28},{"t":14.5,"d":50},{"t":14.5,"d":72},{"t":14.55,"d":12},{"t":14.55,"d":18},{"t":14.55,"d":35},{"t":14.57,"d":232},{"t":14.6,"d":14.5},{"t":14.6,"d":26},{"t":14.6,"d":60},{"t":14.65,"d":12.5},{"t":14.65,"d":33},{"t":14.65,"d":75},{"t":14.65,"d":98},{"t":14.7,"d":13},{"t":14.7,"d":21},{"t":14.7,"d":47},{"t":14.7,"d":88},{"t":14.7,"d":115},{"t":14.75,"d":12},{"t":14.75,"d":38},{"t":14.75,"d":64},{"t":14.8,"d":15},{"t":14.8,"d":24},{"t":14.8,"d":52},{"t":14.85,"d":12.5},{"t":14.85,"d":30},{"t":14.85,"d":45},
{"t":14.9,"d":98},{"t":14.9,"d":130},{"t":14.9,"d":175},{"t":14.9,"d":220},{"t":14.9,"d":270},{"t":14.9,"d":160},{"t":14.95,"d":115},{"t":14.95,"d":150},{"t":14.95,"d":200},{"t":14.95,"d":250},{"t":14.95,"d":300},{"t":14.95,"d":375},{"t":14.95,"d":190},{"t":15.0,"d":100},{"t":15.0,"d":140},{"t":15.0,"d":185},{"t":15.0,"d":230},{"t":15.0,"d":170},{"t":15.05,"d":110},{"t":15.05,"d":160},{"t":15.05,"d":210},
{"t":15.1,"d":12},{"t":15.1,"d":16},{"t":15.1,"d":24},{"t":15.15,"d":13},{"t":15.15,"d":20},{"t":15.15,"d":35},{"t":15.2,"d":12.5},{"t":15.2,"d":28},{"t":15.2,"d":42},{"t":15.25,"d":14},{"t":15.25,"d":18},{"t":15.25,"d":31},{"t":15.3,"d":12},{"t":15.3,"d":22},{"t":15.3,"d":38},{"t":15.35,"d":13},{"t":15.35,"d":26},{"t":15.4,"d":12.5},{"t":15.45,"d":15},{"t":15.45,"d":40},{"t":15.45,"d":52},
{"t":15.55,"d":290},{"t":15.55,"d":230},{"t":15.55,"d":180},{"t":15.55,"d":140},{"t":15.55,"d":110},{"t":15.55,"d":85},{"t":15.55,"d":60},{"t":15.55,"d":40},{"t":15.55,"d":25},{"t":15.55,"d":15},{"t":15.55,"d":12},{"t":15.6,"d":250},{"t":15.6,"d":160},{"t":15.6,"d":120},{"t":15.6,"d":95},{"t":15.6,"d":70},{"t":15.6,"d":48},{"t":15.6,"d":30},{"t":15.6,"d":18},{"t":15.6,"d":13}
],
"vlines": [{"t": 1}, {"t": 2}],
"note": [{"t0": 2.28, "t": 3.99, "d": 18400, "label": "Increased Arrivals"}]
},
"layer": [
{
"data": {"name": "pts"},
"mark": {"type": "square", "size": 3, "color": "black", "opacity": 1},
"encoding": {
"x": {"field": "t", "type": "quantitative", "title": "Simulated Arrival Time (hours)", "scale": {"domain": [0, 15.7], "nice": false, "zero": false},
"axis": {"values": [0, 2, 4, 6, 8, 10, 12, 14], "grid": false, "labelFlush": false,
"tickSize": 14, "tickWidth": 2, "tickColor": "black", "domainWidth": 2, "domainColor": "black",
"labelFont": "Times New Roman, Liberation Serif, serif", "labelFontSize": 20, "labelColor": "black", "labelPadding": 16,
"titleFont": "Times New Roman, Liberation Serif, serif", "titleFontSize": 21, "titleFontWeight": "normal", "titleColor": "black",
"titleX": 253, "titleY": 79, "titleBaseline": "middle"}},
"y": {"field": "d", "type": "quantitative", "title": "Download Duration", "scale": {"type": "log", "domain": [1, 36000], "nice": false},
"axis": {"values": [1, 10, 60, 600, 3600, 36000], "grid": false,
"labelExpr": "datum.value == 1 ? '1s' : datum.value == 10 ? '10s' : datum.value == 60 ? '1m' : datum.value == 600 ? '10m' : datum.value == 3600 ? '1h' : '10h'",
"tickSize": 13, "tickWidth": 2, "tickColor": "black", "domainWidth": 2, "domainColor": "black",
"labelFont": "Times New Roman, Liberation Serif, serif", "labelFontSize": 20, "labelColor": "black", "labelPadding": 13,
"titleFont": "Times New Roman, Liberation Serif, serif", "titleFontSize": 21, "titleFontWeight": "normal", "titleColor": "black",
"titleX": -84, "titleY": 228, "titleBaseline": "middle"}}
}
},
{
"data": {"name": "vlines"},
"mark": {"type": "rule", "strokeWidth": 3, "color": "black"},
"encoding": {"x": {"field": "t", "type": "quantitative", "title": "Simulated Arrival Time (hours)"}}
},
{
"data": {"name": "note"},
"mark": {"type": "rule", "strokeWidth": 2, "color": "black"},
"encoding": {
"x": {"field": "t0", "type": "quantitative", "title": "Simulated Arrival Time (hours)"},
"x2": {"field": "t"},
"y": {"field": "d", "type": "quantitative", "title": "Download Duration"}
}
},
{
"data": {"name": "note"},
"mark": {"type": "point", "shape": "M-1,0L1,-0.55L1,0.55Z", "filled": true, "size": 225, "color": "black", "opacity": 1},
"encoding": {
"x": {"field": "t0", "type": "quantitative", "title": "Simulated Arrival Time (hours)"},
"y": {"field": "d", "type": "quantitative", "title": "Download Duration"}
}
},
{
"data": {"name": "note"},
"mark": {"type": "text", "align": "left", "baseline": "alphabetic", "dx": 1, "fontSize": 21.5, "font": "Times New Roman, Liberation Serif, serif", "color": "black"},
"encoding": {
"x": {"field": "t", "type": "quantitative", "title": "Simulated Arrival Time (hours)"},
"y": {"field": "d", "type": "quantitative", "title": "Download Duration"},
"text": {"field": "label"}
}
}
]
}
